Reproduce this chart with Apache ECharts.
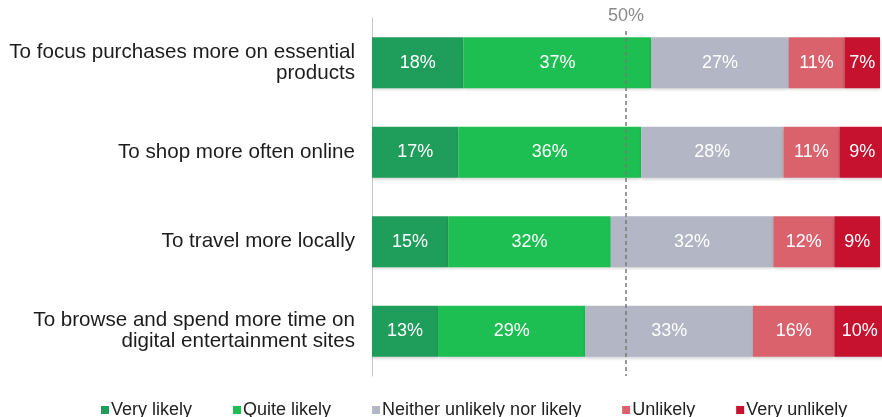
<!DOCTYPE html>
<html>
<head>
<meta charset="utf-8">
<script src="https://cdn.jsdelivr.net/npm/echarts@6/dist/echarts.min.js"></script>
<style>
  html, body { margin: 0; padding: 0; background: #fff; }
  #chart { width: 882px; height: 417px; }
</style>
</head>
<body>
<div id="chart"></div>
<script>
// Survey statements (top to bottom)
const categories = [
  'To focus purchases more on essential\nproducts',
  'To shop more often online',
  'To travel more locally',
  'To browse and spend more time on\ndigital entertainment sites'
];
// Share of respondents per answer, in %
const veryLikely = [18, 17, 15, 13];
const quiteLikely = [37, 36, 32, 29];
const neither = [27, 28, 32, 33];
const unlikely = [11, 11, 12, 16];
const veryUnlikely = [7, 9, 9, 10];
const midpoint = 50;

const seriesDefs = [
  { name: 'Very likely', data: veryLikely, color: '#1f9e5b' },
  { name: 'Quite likely', data: quiteLikely, color: '#1dbf52' },
  { name: 'Neither unlikely nor likely', data: neither, color: '#b3b7c5' },
  { name: 'Unlikely', data: unlikely, color: '#d9626d' },
  { name: 'Very unlikely', data: veryUnlikely, color: '#c6112f' }
];

const FONT = 'Liberation Sans, Arial, sans-serif';

const series = seriesDefs.map((s, i) => ({
  name: s.name,
  type: 'bar',
  stack: 'total',
  barWidth: 51,
  clip: false,
  data: s.data,
  itemStyle: {
    color: s.color,
    shadowColor: 'rgba(0,0,0,0.18)',
    shadowBlur: 3,
    shadowOffsetY: 2
  },
  label: {
    show: true,
    position: 'inside',
    formatter: '{c}%',
    color: '#ffffff',
    fontSize: 18,
    fontFamily: FONT
  },
  // dashed 50% reference line, starting a little below the plot top
  markLine: i === 0 ? {
    silent: true,
    symbol: 'none',
    lineStyle: { color: '#7a7a7a', type: [4, 3], width: 1.5 },
    label: {
      show: true,
      position: 'start',
      formatter: midpoint + '%',
      color: '#8a8a8a',
      fontSize: 18,
      distance: 6,
      fontFamily: FONT
    },
    data: [[{ xAxis: midpoint, y: 31 }, { xAxis: midpoint, y: 376 }]]
  } : undefined
}));

const chart = echarts.init(document.getElementById('chart'));
chart.setOption({
  animation: false,
  textStyle: { fontFamily: FONT },
  grid: { left: 372, right: 2, top: 18, bottom: 41 },
  xAxis: {
    type: 'value',
    min: 0,
    max: 100,
    show: false
  },
  yAxis: {
    type: 'category',
    data: categories,
    inverse: true,
    axisLine: { show: true, lineStyle: { color: '#c8c8c8', width: 1 } },
    axisTick: { show: false },
    axisLabel: {
      color: '#1c1c1c',
      fontSize: 20.6,
      lineHeight: 21,
      margin: 17,
      align: 'right'
    }
  },
  legend: {
    left: 96,
    top: 396,
    icon: 'rect',
    itemWidth: 8,
    itemHeight: 8,
    itemGap: 41,
    textStyle: { color: '#222', fontSize: 18, padding: [0, 0, 0, -3] },
    data: seriesDefs.map(s => s.name)
  },
  series: series
});
</script>
</body>
</html>
